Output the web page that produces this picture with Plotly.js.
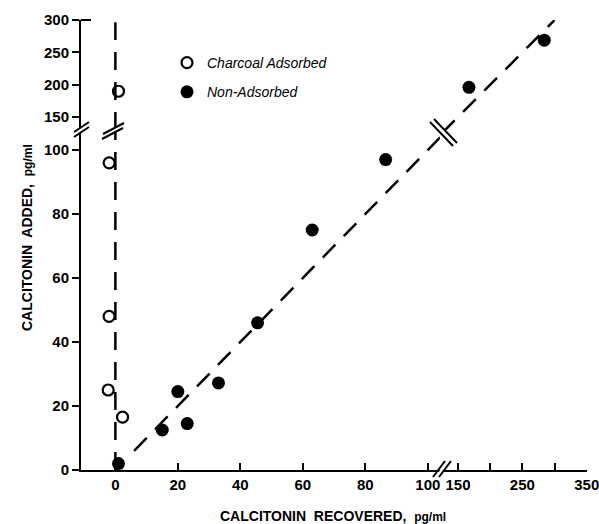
<!DOCTYPE html>
<html>
<head>
<meta charset="utf-8">
<script src="https://cdn.plot.ly/plotly-3.0.1.min.js"></script>
<style>html,body{margin:0;padding:0;background:#fff;}#chart{width:599px;height:524px;}</style>
</head>
<body>
<div id="chart"></div>
<script>
// ---- data ----
// Charcoal adsorbed (open circles), lower y segment (0-100)
const charcoalX = [-2.3, -2.0, -2.0, 2.3];
const charcoalY = [25, 48, 96, 16.5];
// Charcoal adsorbed, upper y segment (150-300)
const charcoalUpX = [1];
const charcoalUpY = [190];
// Non-adsorbed (filled), lower-left segment
const nonAdsX = [1, 15, 20, 23, 33, 45.5, 63, 86.5];
const nonAdsY = [2, 12.5, 24.5, 14.5, 27.2, 46, 75, 97];
// Non-adsorbed, upper-right segment (x 150-350, y 150-300)
const nonAdsUpX = [167, 284];
const nonAdsUpY = [196, 269];
// reference lines
const identityLow = [6, 110];
const identityHigh = [125, 300];
const zeroLineLowY = [0, 106];
const zeroLineHighY = [130, 297];
const zeroLineX = [0, 0];
// ticks
const xTicksLow = [0, 20, 40, 60, 80, 100];
const xTicksHigh = [150, 200, 250, 300, 350];
const xTickTextHigh = ['150', '', '250', '', '350'];
const yTicksLow = [0, 20, 40, 60, 80, 100];
const yTicksHigh = [150, 200, 250, 300];
const seriesNames = ['Charcoal Adsorbed', 'Non-Adsorbed'];

// ---- layout geometry ----
const W = 599, H = 524;
const M = {l: 81, r: 12, t: 20, b: 54};
const PW = W - M.l - M.r, PH = H - M.t - M.b;
const xBreakPx = 440, yBreakPx = 130;
const xSplit = (xBreakPx - M.l) / PW;
const ySplit = (H - M.b - yBreakPx) / PH;
const px = x => (x - M.l) / PW;
const py = y => (H - M.b - y) / PH;

const dashStyle = {color: 'black', width: 2.5, dash: '18px,12px'};
const tickFont = {family: 'Liberation Sans, Arial, sans-serif', size: 15, color: 'black', weight: 'bold'};

const traces = [
  {x: identityLow, y: identityLow, xaxis: 'x', yaxis: 'y', mode: 'lines', line: dashStyle, showlegend: false, hoverinfo: 'skip'},
  {x: identityHigh, y: identityHigh, xaxis: 'x2', yaxis: 'y2', mode: 'lines', line: dashStyle, showlegend: false, hoverinfo: 'skip'},
  {x: zeroLineX, y: zeroLineLowY, xaxis: 'x', yaxis: 'y', mode: 'lines', line: dashStyle, showlegend: false, hoverinfo: 'skip'},
  {x: zeroLineX, y: zeroLineHighY, xaxis: 'x', yaxis: 'y2', mode: 'lines', line: dashStyle, showlegend: false, hoverinfo: 'skip'},
  {x: charcoalX, y: charcoalY, xaxis: 'x', yaxis: 'y', mode: 'markers', name: seriesNames[0], legendgroup: 'a',
   marker: {symbol: 'circle-open', size: 11, color: 'black', line: {width: 2.2, color: 'black'}}, cliponaxis: false},
  {x: charcoalUpX, y: charcoalUpY, xaxis: 'x', yaxis: 'y2', mode: 'markers', name: seriesNames[0], legendgroup: 'a', showlegend: false,
   marker: {symbol: 'circle-open', size: 11, color: 'black', line: {width: 2.2, color: 'black'}}, cliponaxis: false},
  {x: nonAdsX, y: nonAdsY, xaxis: 'x', yaxis: 'y', mode: 'markers', name: seriesNames[1], legendgroup: 'b',
   marker: {symbol: 'circle', size: 13, color: 'black'}, cliponaxis: false},
  {x: nonAdsUpX, y: nonAdsUpY, xaxis: 'x2', yaxis: 'y2', mode: 'markers', name: seriesNames[1], legendgroup: 'b', showlegend: false,
   marker: {symbol: 'circle', size: 13, color: 'black'}, cliponaxis: false}
];

const axisCommon = {showline: true, linecolor: 'black', linewidth: 2, showgrid: false, zeroline: false,
  tickcolor: 'black', tickwidth: 2, ticklen: 7, tickfont: tickFont, fixedrange: true, ticklabeloverflow: 'allow'};

const brk = (x0, y0, x1, y1) => ({type: 'line', xref: 'paper', yref: 'paper', x0: px(x0), y0: py(y0), x1: px(x1), y1: py(y1),
  line: {color: 'black', width: 2}});
const gap = (x0, y0, x1, y1) => ({type: 'line', xref: 'paper', yref: 'paper', x0: px(x0), y0: py(y0), x1: px(x1), y1: py(y1),
  line: {color: 'white', width: 3}});

const shapes = [
  // y-axis break
  gap(75, 134, 89, 124),
  brk(74, 137, 89, 127), brk(74, 132, 89, 122),
  // zero-line break
  gap(103, 135, 124, 125),
  brk(102, 139, 123, 128), brk(103, 134, 124, 123),
  // x-axis break
  gap(437, 476, 449, 463),
  brk(433, 477, 445, 461), brk(439, 477, 451, 461),
  // diagonal break
  brk(430, 122, 453, 146), brk(434, 119, 457, 143),
  // inner tick at 300
  {type: 'line', xref: 'paper', yref: 'paper', x0: px(81), x1: px(91), y0: py(20), y1: py(20), line: {color: 'black', width: 2}}
];

const titleFont = {family: 'Liberation Sans, Arial, sans-serif', size: 14, color: 'black', weight: 'bold'};
const annotations = [
  {text: 'CALCITONIN  RECOVERED,  <span style="font-size:12px">pg/ml</span>', xref: 'paper', yref: 'paper',
   x: px(333), y: py(516), xanchor: 'center', yanchor: 'middle', showarrow: false, font: titleFont},
  {text: 'CALCITONIN  ADDED,  <span style="font-size:12px">pg/ml</span>', xref: 'paper', yref: 'paper', textangle: -90,
   x: px(27), y: py(238), xanchor: 'center', yanchor: 'middle', showarrow: false, font: titleFont}
];

const layout = {
  width: W, height: H,
  margin: M,
  paper_bgcolor: 'white', plot_bgcolor: 'rgba(0,0,0,0)',
  showlegend: true,
  legend: {x: px(167), y: py(47), xanchor: 'left', yanchor: 'top', bgcolor: 'rgba(0,0,0,0)',
    traceorder: 'grouped', tracegroupgap: 8,
    font: {family: 'Liberation Sans, Arial, sans-serif', size: 14, style: 'italic', color: 'black'}},
  xaxis: Object.assign({}, axisCommon, {domain: [0, xSplit], range: [-11, 103.9], anchor: 'y', ticks: 'inside',
    tickvals: xTicksLow, ticktext: xTicksLow.map(String)}),
  xaxis2: Object.assign({}, axisCommon, {domain: [xSplit, 1], range: [122, 350.4], anchor: 'y', ticks: 'inside',
    tickvals: xTicksHigh, ticktext: xTickTextHigh}),
  yaxis: Object.assign({}, axisCommon, {domain: [0, ySplit], range: [0, 106.25], anchor: 'x', ticks: 'outside',
    tickvals: yTicksLow, ticktext: yTicksLow.map(String)}),
  yaxis2: Object.assign({}, axisCommon, {domain: [ySplit, 1], range: [130, 300.3], anchor: 'x', ticks: 'outside',
    tickvals: yTicksHigh, ticktext: yTicksHigh.map(String)}),
  shapes: shapes,
  annotations: annotations
};

Plotly.newPlot('chart', traces, layout, {displayModeBar: false, staticPlot: true});
</script>
</body>
</html>
